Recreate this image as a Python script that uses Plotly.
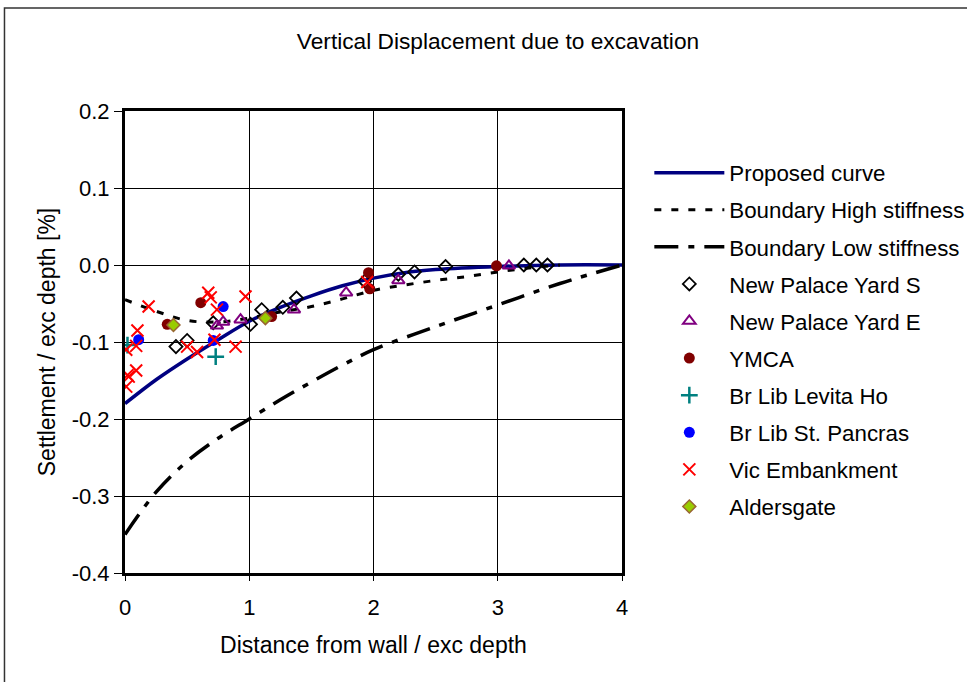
import plotly.graph_objects as go

# ---- data ----
curve_x = [0, 0.25, 0.5, 0.75, 1.0, 1.25, 1.5, 1.75, 2.0, 2.25, 2.5, 3.0, 3.5, 4.0]
curve_y = [-0.18, -0.149, -0.122, -0.097, -0.073, -0.055, -0.040, -0.027, -0.017, -0.010, -0.006, -0.002, 0.0, 0.0]

high_x = [0, 0.25, 0.5, 0.75, 1.0, 1.25, 1.5, 1.75, 2.0, 2.25, 2.5, 2.75, 3.0, 3.25, 3.5]
high_y = [-0.045, -0.060, -0.072, -0.074, -0.069, -0.061, -0.054, -0.044, -0.033, -0.026, -0.020, -0.015, -0.009, -0.004, 0.0]

low_x = [0, 0.25, 0.5, 0.75, 1.0, 1.25, 1.5, 1.75, 2.0, 2.5, 3.0, 3.5, 4.0]
low_y = [-0.35, -0.295, -0.255, -0.225, -0.200, -0.175, -0.152, -0.130, -0.110, -0.080, -0.052, -0.024, 0.0]

npys_x = [0.41, 0.50, 0.71, 1.01, 1.10, 1.27, 1.38, 1.93, 2.20, 2.33, 2.58, 3.21, 3.31, 3.40]
npys_y = [-0.106, -0.098, -0.075, -0.077, -0.058, -0.055, -0.043, -0.021, -0.012, -0.009, -0.002, 0.0, 0.0, 0.0]

npye_x = [0.74, 0.79, 0.93, 1.36, 1.78, 2.20, 3.09]
npye_y = [-0.079, -0.074, -0.071, -0.058, -0.036, -0.020, -0.001]

ymca_x = [0.34, 0.61, 1.18, 1.96, 1.97, 2.99]
ymca_y = [-0.077, -0.049, -0.067, -0.010, -0.031, -0.001]

levita_x = [0.02, 0.73]
levita_y = [-0.104, -0.119]

pancras_x = [0.11, 0.71, 0.79]
pancras_y = [-0.097, -0.098, -0.054]

vic_x = [0.19, 0.67, 0.69, 0.74, 0.97, 0.10, 0.09, 0.01, 0.09, 0.03, 0.01, 0.50, 0.58, 0.72, 0.89, 1.95, 0.02]
vic_y = [-0.054, -0.036, -0.042, -0.058, -0.041, -0.085, -0.105, -0.110, -0.137, -0.145, -0.158, -0.106, -0.113, -0.097, -0.106, -0.022, -0.143]

alders_x = [0.39, 1.13]
alders_y = [-0.078, -0.069]

y_tickvals = [-0.4, -0.3, -0.2, -0.1, 0.0, 0.1, 0.2]
y_ticktext = ["-0.4", "-0.3", "-0.2", "-0.1", "0.0", "0.1", "0.2"]
x_tickvals = [0, 1, 2, 3, 4]
x_ticktext = ["0", "1", "2", "3", "4"]

FONT = "Liberation Sans, Arial, sans-serif"

fig = go.Figure()

fig.add_trace(go.Scatter(x=curve_x, y=curve_y, mode="lines", name="Proposed curve",
                         line=dict(color="#000080", width=3.5, shape="spline"), legendgroup="a"))
fig.add_trace(go.Scatter(x=high_x, y=high_y, mode="lines", name="Boundary High stiffness",
                         line=dict(color="black", width=3, dash="7px,10px", shape="spline"), legendgroup="b"))
fig.add_trace(go.Scatter(x=low_x, y=low_y, mode="lines", name="Boundary Low stiffness",
                         line=dict(color="black", width=3.5, dash="24px,10px,6px,10px", shape="spline"), legendgroup="c"))
fig.add_trace(go.Scatter(x=npys_x, y=npys_y, mode="markers", name="New Palace Yard S",
                         marker=dict(symbol="diamond-open", size=10, color="black", line=dict(width=1.8)), legendgroup="d"))
fig.add_trace(go.Scatter(x=npye_x, y=npye_y, mode="markers", name="New Palace Yard E",
                         marker=dict(symbol="triangle-up-open", size=11, color="#800080", line=dict(width=2)), legendgroup="e"))
fig.add_trace(go.Scatter(x=ymca_x, y=ymca_y, mode="markers", name="YMCA",
                         marker=dict(symbol="circle", size=11, color="#800000"), legendgroup="f"))
fig.add_trace(go.Scatter(x=levita_x, y=levita_y, mode="markers", name="Br Lib Levita Ho",
                         marker=dict(symbol="cross-thin-open", size=12, color="#008080", line=dict(width=2.5, color="#008080")), legendgroup="g"))
fig.add_trace(go.Scatter(x=pancras_x, y=pancras_y, mode="markers", name="Br Lib St. Pancras",
                         marker=dict(symbol="circle", size=11, color="#0000FF"), legendgroup="h"))
fig.add_trace(go.Scatter(x=vic_x, y=vic_y, mode="markers", name="Vic Embankment",
                         marker=dict(symbol="x-thin-open", size=12, color="#FF0000", line=dict(width=2, color="#FF0000")), legendgroup="i"))
fig.add_trace(go.Scatter(x=alders_x, y=alders_y, mode="markers", name="Aldersgate",
                         marker=dict(symbol="diamond", size=10, color="#99CC00", line=dict(width=1.5, color="#996633")), legendgroup="j"))

fig.update_layout(
    width=967, height=682,
    margin=dict(l=125, r=345, t=111, b=109, autoexpand=False),
    paper_bgcolor="white", plot_bgcolor="white",
    font=dict(family=FONT, size=22, color="black"),
    title=dict(text="Vertical Displacement due to excavation", x=0.515, xanchor="center",
               y=0.94, yanchor="middle", font=dict(family=FONT, size=22.7)),
    showlegend=True,
    legend=dict(x=1.055, xanchor="left", y=0.912, yanchor="top", bgcolor="rgba(0,0,0,0)",
                font=dict(family=FONT, size=22.3), tracegroupgap=5.1, itemwidth=70),
    xaxis=dict(range=[0, 4], tickmode="array", tickvals=x_tickvals, ticktext=x_ticktext,
               showgrid=True, gridcolor="black", gridwidth=1,
               showline=True, linecolor="black", linewidth=3, mirror=True,
               ticks="outside", ticklen=5, tickcolor="black", tickwidth=1, ticklabelstandoff=8,
               zeroline=False, fixedrange=True, tickfont=dict(size=22),
               title=dict(text="Distance from wall / exc depth", standoff=18, font=dict(size=23))),
    yaxis=dict(range=[-0.4, 0.2], tickmode="array", tickvals=y_tickvals, ticktext=y_ticktext,
               showgrid=True, gridcolor="black", gridwidth=1,
               showline=True, linecolor="black", linewidth=3, mirror=True,
               ticks="outside", ticklen=8, tickcolor="black", tickwidth=1,
               zeroline=False, fixedrange=True, tickfont=dict(size=22),
               title=dict(text="Settlement / exc depth [%]", standoff=10, font=dict(size=23))),
    shapes=[dict(type="rect", xref="paper", yref="paper", x0=-0.2425, x1=2.0, y0=-0.5, y1=1.223,
                 line=dict(color="#333333", width=1.5), fillcolor="rgba(0,0,0,0)", layer="below")],
)

fig.write_html("out.html")
